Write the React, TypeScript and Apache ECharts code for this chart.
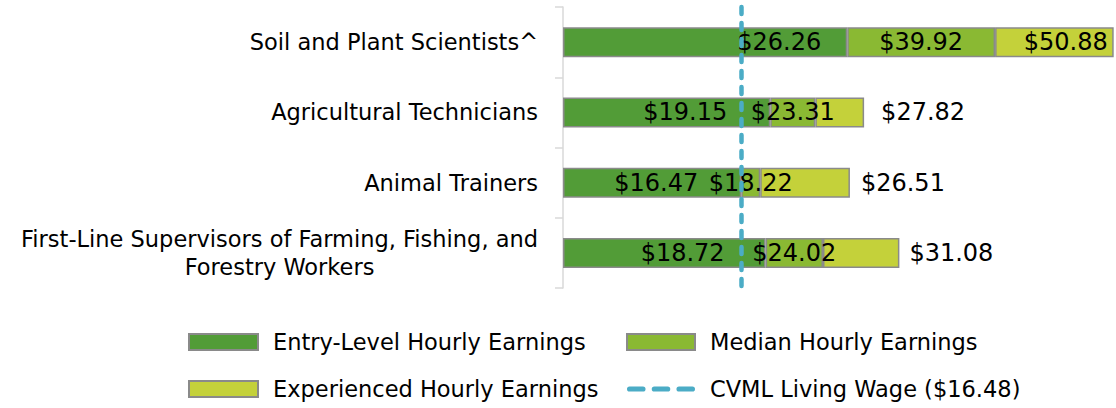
import React, { useEffect, useRef } from "react";
import * as echarts from "echarts";

// ---- data ----
const categories = [
  "Soil and Plant Scientists^",
  "Agricultural Technicians",
  "Animal Trainers",
  "First-Line Supervisors of Farming, Fishing, and\nForestry Workers",
];
const entryValues = [26.26, 19.15, 16.47, 18.72];
const medianValues = [39.92, 23.31, 18.22, 24.02];
const experiencedValues = [50.88, 27.82, 26.51, 31.08];
const livingWage = 16.48;
const seriesNames = [
  "Entry-Level Hourly Earnings",
  "Median Hourly Earnings",
  "Experienced Hourly Earnings",
  "CVML Living Wage ($16.48)",
];

// ---- label layout (styling, not data) ----
const entryLabelInset = [26, 43, 43, 41];
const expLabelPos = ["insideRight", "right", "right", "right"];
const expLabelDist = [6, 17, 11, 10];

const FONT = "DejaVu Sans";
const FS = 22.5;
const LABEL_FS = 24;
const COLORS = ["#529C37", "#8AB933", "#C4D13A"];
const LINE_COLOR = "#4BACC6";
const BORDER = "#8A8A8A";

// three rounded dashes for the living-wage legend icon
const DASH_ICON =
  "path://M2.5,0H15.5A2.5,2.5 0 0 1 15.5,5H2.5A2.5,2.5 0 0 1 2.5,0Z" +
  "M26.5,0H39.5A2.5,2.5 0 0 1 39.5,5H26.5A2.5,2.5 0 0 1 26.5,0Z" +
  "M50.5,0H63.5A2.5,2.5 0 0 1 63.5,5H50.5A2.5,2.5 0 0 1 50.5,0Z";

const money = (v: number) => "$" + v.toFixed(2);

export default function App() {
  const ref = useRef<HTMLDivElement>(null);

  useEffect(() => {
    if (!ref.current) return;
    const chart = echarts.init(ref.current, undefined, { renderer: "svg" });

    const medianSeg = medianValues.map((m, i) => +(m - entryValues[i]).toFixed(2));
    const expSeg = experiencedValues.map((e, i) => +(e - medianValues[i]).toFixed(2));

    const textBase = { fontFamily: FONT, fontSize: FS, color: "#000" };
    const labelText = { fontFamily: FONT, fontSize: LABEL_FS, color: "#000" };

    const barCommon = {
      type: "bar",
      stack: "wages",
      barWidth: 30,
      z: 2,
      itemStyle: { borderColor: BORDER, borderWidth: 1.5 },
      emphasis: { disabled: true },
    };

    const legendCommon = {
      top: 330,
      height: 78,
      padding: 0,
      orient: "vertical",
      itemGap: 23,
      itemHeight: 16,
      selectedMode: false,
      textStyle: { ...textBase, lineHeight: 24, padding: [0, 0, 0, 10] },
    };

    const option: any = {
      animation: false,
      grid: { left: 563, right: 1, top: 7, bottom: 120, containLabel: false },
      xAxis: { type: "value", min: 0, max: 51, show: false },
      yAxis: {
        type: "category",
        inverse: true,
        data: categories,
        axisLine: { show: true, lineStyle: { color: "#D9D9D9", width: 1.5 } },
        axisTick: { show: true, length: 8, lineStyle: { color: "#D9D9D9", width: 1.5 } },
        axisLabel: {
          margin: 25,
          ...textBase,
          lineHeight: 28,
          formatter: (v: string) =>
            v
              .split("\n")
              .map((l) => "{c|" + l + "}")
              .join("\n"),
          rich: { c: { align: "center", ...textBase, lineHeight: 28 } },
        },
        splitLine: { show: false },
      },
      legend: [
        {
          ...legendCommon,
          left: 188,
          itemWidth: 69,
          data: [
            { name: seriesNames[0], icon: "rect" },
            { name: seriesNames[2], icon: "rect" },
          ],
        },
        {
          ...legendCommon,
          left: 626,
          itemWidth: 68,
          data: [
            { name: seriesNames[1], icon: "rect" },
            { name: seriesNames[3], icon: DASH_ICON, itemStyle: { color: LINE_COLOR, borderWidth: 0 } },
          ],
        },
      ],
      series: [
        {
          ...barCommon,
          name: seriesNames[0],
          itemStyle: { ...barCommon.itemStyle, color: COLORS[0] },
          data: entryValues.map((v, i) => ({
            value: v,
            label: { distance: entryLabelInset[i] },
          })),
          label: {
            show: true,
            position: "insideRight",
            ...labelText,
            formatter: (p: any) => money(entryValues[p.dataIndex]),
          },
        },
        {
          ...barCommon,
          name: seriesNames[1],
          itemStyle: { ...barCommon.itemStyle, color: COLORS[1] },
          data: medianSeg,
          label: {
            show: true,
            position: "inside",
            ...labelText,
            formatter: (p: any) => money(medianValues[p.dataIndex]),
          },
        },
        {
          ...barCommon,
          name: seriesNames[2],
          itemStyle: { ...barCommon.itemStyle, color: COLORS[2] },
          data: expSeg.map((v, i) => ({
            value: v,
            label: { position: expLabelPos[i], distance: expLabelDist[i] },
          })),
          label: {
            show: true,
            ...labelText,
            formatter: (p: any) => money(experiencedValues[p.dataIndex]),
          },
        },
        {
          type: "line",
          name: seriesNames[3],
          data: [],
          symbol: "none",
          z: 10,
          lineStyle: { color: LINE_COLOR, width: 5, type: [13, 11], cap: "round" },
          itemStyle: { color: LINE_COLOR },
          markLine: {
            silent: true,
            symbol: ["none", "none"],
            label: { show: false },
            z: 10,
            lineStyle: { color: LINE_COLOR, width: 4.5, type: [7, 9], cap: "round" },
            data: [{ xAxis: livingWage }],
          },
        },
      ],
    };

    chart.setOption(option);
    return () => chart.dispose();
  }, []);

  return (
    <div
      ref={ref}
      style={{ position: "absolute", left: 0, top: 0, width: 1116, height: 408, background: "#fff" }}
    />
  );
}
